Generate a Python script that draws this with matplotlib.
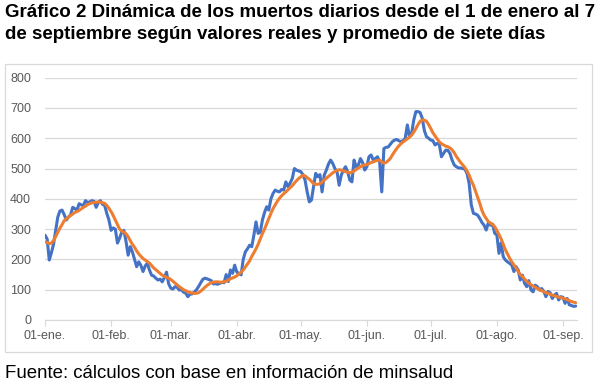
import pandas as pd
import matplotlib.pyplot as plt
from matplotlib.patches import Rectangle

# daily deaths, 1 Jan - 7 Sep
real = [280, 268, 198, 222, 250, 295, 340, 360, 363, 348,
        330, 340, 347, 372, 368, 362, 384, 380, 378, 394,
        388, 390, 394, 392, 372, 388, 394, 382, 378, 352,
        330, 296, 304, 300, 254, 270, 290, 296, 260, 214,
        242, 225, 200, 176, 192, 180, 160, 178, 188, 165,
        148, 145, 138, 132, 135, 126, 140, 158, 120, 105,
        102, 110, 108, 99, 100, 92, 89, 77, 85, 86,
        92, 99, 110, 122, 134, 138, 136, 133, 130, 119,
        120, 118, 121, 124, 123, 150, 127, 165, 154, 181,
        158, 154, 149, 200, 225, 235, 247, 242, 280, 324,
        286, 290, 330, 355, 374, 363, 400, 418, 429, 425,
        423, 431, 429, 456, 440, 452, 467, 500, 495, 492,
        490, 480, 462, 423, 390, 396, 440, 484, 473, 480,
        423, 478, 495, 515, 528, 517, 500, 490, 445, 478,
        495, 506, 490, 462, 456, 528, 506, 511, 533, 520,
        495, 506, 539, 545, 528, 533, 539, 522, 423, 566,
        570, 571, 580, 589, 594, 596, 592, 589, 592, 600,
        644, 605, 616, 660, 688, 688, 685, 666, 625, 605,
        600, 594, 592, 578, 583, 580, 539, 550, 561, 560,
        550, 528, 512, 506, 502, 502, 500, 498, 484, 451,
        380, 352, 350, 346, 335, 322, 313, 297, 321, 313,
        316, 286, 281, 220, 255, 209, 198, 192, 187, 181,
        160, 176, 165, 132, 148, 121, 110, 130, 99, 93,
        115, 110, 99, 104, 95, 77, 94, 90, 71, 82,
        88, 66, 77, 75, 55, 71, 50, 48, 45, 46]

# seven-day average
avg7 = [258, 256, 252, 254, 262, 275, 290, 303, 315, 328,
        334, 340, 345, 350, 355, 358, 362, 367, 372, 376,
        381, 384, 387, 388, 389, 390, 389, 387, 385, 378,
        369, 358, 345, 330, 315, 300, 293, 290, 285, 275,
        262, 250, 240, 228, 218, 210, 203, 198, 193, 188,
        180, 172, 166, 160, 154, 148, 144, 141, 138, 134,
        128, 122, 116, 110, 105, 100, 97, 93, 91, 89,
        88, 88, 90, 95, 101, 108, 114, 119, 123, 125,
        126, 126, 125, 125, 126, 128, 132, 136, 139, 142,
        146, 152, 158, 165, 175, 185, 195, 210, 222, 235,
        250, 268, 285, 300, 318, 335, 352, 368, 380, 392,
        402, 410, 417, 423, 430, 437, 443, 452, 460, 467,
        473, 478, 476, 470, 465, 458, 450, 448, 448, 450,
        455, 462, 468, 474, 480, 486, 490, 494, 496, 495,
        492, 490, 488, 486, 488, 492, 497, 502, 506, 510,
        512, 513, 516, 520, 522, 525, 527, 528, 522, 518,
        520, 526, 533, 545, 556, 566, 575, 582, 588, 593,
        598, 604, 610, 620, 632, 645, 656, 660, 660, 656,
        645, 632, 618, 608, 598, 588, 582, 578, 574, 572,
        568, 562, 552, 540, 530, 520, 512, 503, 492, 478,
        460, 445, 425, 405, 385, 362, 346, 335, 325, 320,
        316, 308, 296, 282, 268, 250, 232, 218, 204, 192,
        182, 172, 160, 150, 143, 135, 128, 122, 117, 112,
        108, 104, 100, 97, 94, 90, 88, 85, 82, 80,
        78, 76, 74, 72, 70, 67, 64, 61, 59, 57]

month_ticks = ['2021-01-01', '2021-02-01', '2021-03-01', '2021-04-01', '2021-05-01',
               '2021-06-01', '2021-07-01', '2021-08-01', '2021-09-01']
month_labels = ['01-ene.', '01-feb.', '01-mar.', '01-abr.', '01-may.',
                '01-jun.', '01-jul.', '01-ago.', '01-sep.']

dates = pd.date_range('2021-01-01', periods=len(real), freq='D')

plt.rcParams['font.family'] = ['Liberation Sans', 'DejaVu Sans']

fig = plt.figure(figsize=(6.1, 3.89), dpi=100)
ax = fig.add_axes([45 / 610, 1 - 320 / 389, 532 / 610, (320 - 77.7) / 389])

ax.plot(dates, real, color='#4472C4', linewidth=2.2, solid_capstyle='round', zorder=3)
ax.plot(dates, avg7, color='#ED7D31', linewidth=2.2, solid_capstyle='round', zorder=4)

ax.set_ylim(0, 800)
ax.set_xlim(dates[0], dates[-1] + pd.Timedelta(days=0.6))
ax.set_yticks(range(0, 801, 100))
ax.set_xticks(pd.to_datetime(month_ticks))
ax.set_xticklabels(month_labels)

ax.grid(axis='y', color='#D9D9D9', linewidth=0.9)
ax.set_axisbelow(True)
for s in ['top', 'right', 'left']:
    ax.spines[s].set_visible(False)
ax.spines['bottom'].set_color('#D9D9D9')
ax.tick_params(axis='y', length=0, pad=10, labelsize=9, labelcolor='#595959')
ax.tick_params(axis='x', length=4, color='#D9D9D9', pad=3, labelsize=9, labelcolor='#595959')

# chart border
fig.patches.append(Rectangle((5 / 610, 1 - 352 / 389), 587 / 610, 288 / 389,
                             transform=fig.transFigure, fill=False,
                             edgecolor='#D9D9D9', linewidth=0.9))

fig.text(5 / 610, 1 - 4 / 389,
         'Gráfico 2 Dinámica de los muertos diarios desde el 1 de enero al 7\n'
         'de septiembre según valores reales y promedio de siete días',
         ha='left', va='top', fontsize=13.5, fontweight='bold', linespacing=1.35)
fig.text(5 / 610, 1 - 365 / 389, 'Fuente: cálculos con base en información de minsalud',
         ha='left', va='top', fontsize=13.4)

fig.savefig('out.png', dpi=100)
